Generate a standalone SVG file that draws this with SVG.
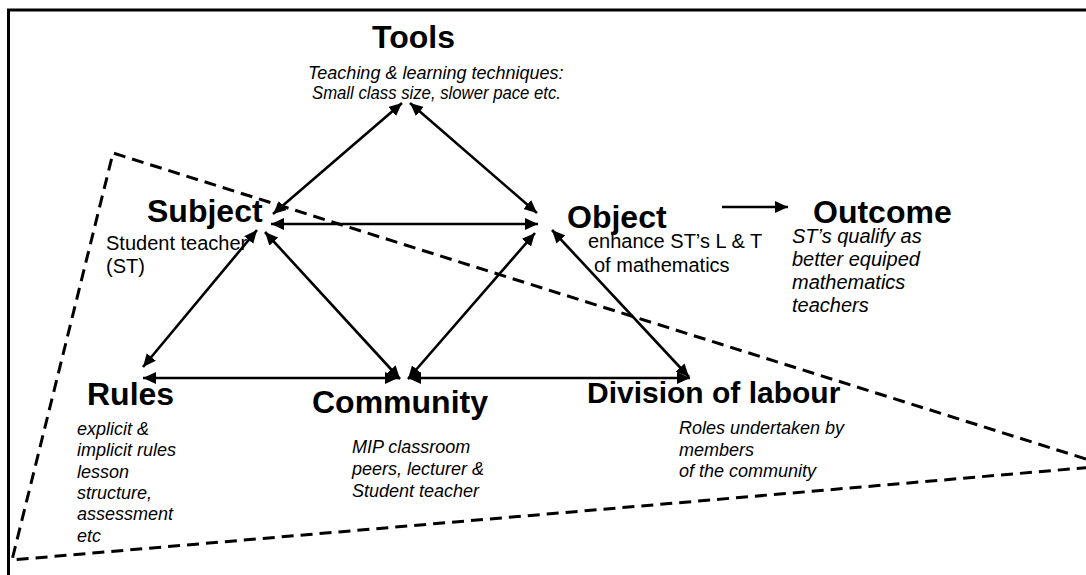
<svg xmlns="http://www.w3.org/2000/svg" width="1086" height="575" viewBox="0 0 1086 575">
  <style>
    .title { font-family: "Liberation Sans", Arial, sans-serif; font-weight: bold; font-size: 32px; fill: #000; }
    .note { font-family: "Liberation Sans", Arial, sans-serif; font-size: 20px; fill: #000; }
    .inote { font-family: "Liberation Sans", Arial, sans-serif; font-style: italic; font-size: 18px; fill: #000; }
    .inote20 { font-family: "Liberation Sans", Arial, sans-serif; font-style: italic; font-size: 20px; fill: #000; }
    .link { stroke: #000; stroke-width: 2.6; fill: none; }
    .boundary { stroke: #000; stroke-width: 3; fill: none; stroke-dasharray: 12 7; }
  </style>
  <defs>
    <marker id="head" markerUnits="userSpaceOnUse" markerWidth="14" markerHeight="12" refX="13" refY="6" orient="auto-start-reverse">
      <path d="M0,0 L13,6 L0,12 Z" fill="#000"/>
    </marker>
  </defs>

  <rect width="1086" height="575" fill="#fff"/>

  <!-- page frame (top and left edges only) -->
  <polyline points="1086,10 8.5,10 8.5,575" stroke="#000" stroke-width="3" fill="none"/>

  <!-- dashed wedge around the lower system -->
  <path class="boundary" d="M1086,459 L113,153 L12,560 L1086,467.7"/>

  <g id="connectors">
    <line class="link" x1="273" y1="214" x2="402" y2="103" marker-start="url(#head)" marker-end="url(#head)"/>
    <line class="link" x1="410" y1="103" x2="537" y2="213" marker-start="url(#head)" marker-end="url(#head)"/>
    <line class="link" x1="271" y1="224" x2="538" y2="224" marker-start="url(#head)" marker-end="url(#head)"/>
    <line class="link" x1="257" y1="230" x2="143" y2="367" marker-start="url(#head)" marker-end="url(#head)"/>
    <line class="link" x1="265" y1="232" x2="400" y2="379" marker-start="url(#head)" marker-end="url(#head)"/>
    <line class="link" x1="535" y1="233" x2="408" y2="379" marker-start="url(#head)" marker-end="url(#head)"/>
    <line class="link" x1="552" y1="230" x2="689" y2="377" marker-start="url(#head)" marker-end="url(#head)"/>
    <line class="link" x1="143" y1="378" x2="398" y2="378" marker-start="url(#head)" marker-end="url(#head)"/>
    <line class="link" x1="408" y1="378" x2="690" y2="378" marker-start="url(#head)" marker-end="url(#head)"/>
    <line class="link" x1="722" y1="207" x2="788" y2="207" marker-end="url(#head)"/>
  </g>

  <g id="tools">
    <text class="title" x="372" y="48">Tools</text>
    <text class="inote" x="308" y="79">Teaching &amp; learning techniques:</text>
    <text class="inote" x="312" y="99" textLength="249" lengthAdjust="spacingAndGlyphs">Small class size, slower pace etc.</text>
  </g>

  <g id="subject">
    <text class="title" x="147" y="222">Subject</text>
    <text class="note" x="106" y="250">Student teacher</text>
    <text class="note" x="106" y="273">(ST)</text>
  </g>

  <g id="object">
    <text class="title" x="567" y="228">Object</text>
    <text class="note" x="588" y="248">enhance ST’s L &amp; T</text>
    <text class="note" x="594" y="272">of mathematics</text>
  </g>

  <g id="outcome">
    <text class="title" x="813" y="223">Outcome</text>
    <text class="inote20" x="792" y="243">ST’s qualify as</text>
    <text class="inote20" x="792" y="266">better equiped</text>
    <text class="inote20" x="792" y="289">mathematics</text>
    <text class="inote20" x="792" y="312">teachers</text>
  </g>

  <g id="rules">
    <text class="title" x="87" y="405">Rules</text>
    <text class="inote" x="77" y="435">explicit &amp;</text>
    <text class="inote" x="77" y="456">implicit rules</text>
    <text class="inote" x="77" y="478">lesson</text>
    <text class="inote" x="77" y="499">structure,</text>
    <text class="inote" x="77" y="520">assessment</text>
    <text class="inote" x="77" y="542">etc</text>
  </g>

  <g id="community">
    <text class="title" x="312" y="413">Community</text>
    <text class="inote" x="352" y="453">MIP classroom</text>
    <text class="inote" x="352" y="475">peers, lecturer &amp;</text>
    <text class="inote" x="352" y="497">Student teacher</text>
  </g>

  <g id="division-of-labour">
    <text class="title" x="587" y="403" style="font-size:30px">Division of labour</text>
    <text class="inote" x="679" y="434">Roles undertaken by</text>
    <text class="inote" x="679" y="456">members</text>
    <text class="inote" x="679" y="477">of the community</text>
  </g>
</svg>
